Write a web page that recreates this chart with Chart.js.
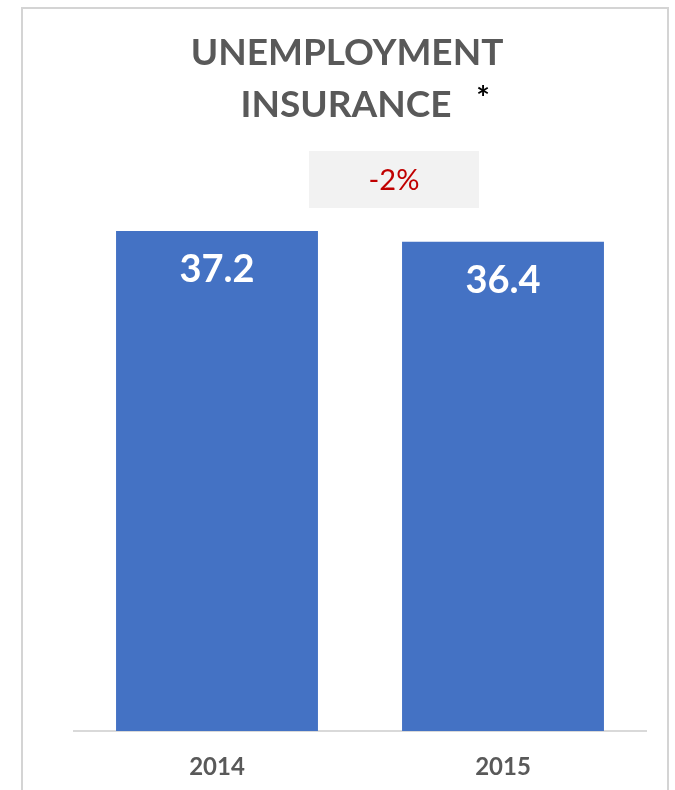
<!DOCTYPE html>
<html>
<head>
<meta charset="utf-8">
<script src="https://cdn.jsdelivr.net/npm/chart.js@4/dist/chart.umd.min.js"></script>
<style>
  html, body { margin: 0; padding: 0; background: #ffffff; }
  #wrap { position: relative; width: 675px; height: 790px; overflow: hidden; }
  #frame {
    position: absolute; left: 21px; top: 7px; width: 644px; height: 800px;
    border: 2px solid #d4d4d4; border-bottom: none;
  }
  canvas { position: absolute; left: 0; top: 0; }
</style>
</head>
<body>
<div id="wrap">
  <div id="frame"></div>
  <canvas id="chart" width="675" height="790"></canvas>
</div>
<script>
// Unemployment insurance, yearly totals
const years = ['2014', '2015'];
const values = [37.2, 36.4];
const titleLines = ['UNEMPLOYMENT', 'INSURANCE'];
const titleMark = '*';

const FONT = 'Lato, "Open Sans", "Liberation Sans", sans-serif';
const GREY = '#595959';

// Year-over-year change, shown in the grey badge above the bars
const change = (values[1] - values[0]) / values[0];
const changeText = (change >= 0 ? '+' : '-') + Math.round(Math.abs(change) * 100) + '%';

const headerPlugin = {
  id: 'header',
  afterDraw(chart) {
    const ctx = chart.ctx;
    ctx.save();
    // Title, two centred lines
    ctx.fillStyle = GREY;
    ctx.font = 'bold 37px ' + FONT;
    ctx.textAlign = 'center';
    ctx.textBaseline = 'alphabetic';
    ctx.fillText(titleLines[0], 347, 65);
    ctx.fillText(titleLines[1], 346, 117);
    // footnote mark
    ctx.fillStyle = '#000000';
    ctx.font = 'bold 32px ' + FONT;
    ctx.fillText(titleMark, 483, 110);
    // change badge
    ctx.fillStyle = '#f2f2f2';
    ctx.fillRect(309, 151, 170, 57);
    ctx.fillStyle = '#c00000';
    ctx.font = '29px ' + FONT;
    ctx.textBaseline = 'middle';
    ctx.fillText(changeText, 394, 181);
    ctx.restore();
  }
};

// White value labels just inside the top of each bar
const valueLabelPlugin = {
  id: 'valueLabels',
  afterDatasetsDraw(chart) {
    const ctx = chart.ctx;
    const meta = chart.getDatasetMeta(0);
    ctx.save();
    ctx.fillStyle = '#ffffff';
    ctx.font = 'bold 38px ' + FONT;
    ctx.textAlign = 'center';
    ctx.textBaseline = 'middle';
    meta.data.forEach((bar, i) => {
      ctx.fillText(values[i].toFixed(1), bar.x, bar.y + 39);
    });
    ctx.restore();
  }
};

new Chart(document.getElementById('chart'), {
  type: 'bar',
  data: {
    labels: years,
    datasets: [{
      data: values,
      backgroundColor: '#4472c4',
      borderWidth: 0,
      barPercentage: 0.706,
      categoryPercentage: 1.0
    }]
  },
  options: {
    responsive: false,
    animation: false,
    devicePixelRatio: 1,
    layout: { padding: { top: 139.6, left: 74, right: 29, bottom: 8.2 } },
    plugins: {
      legend: { display: false },
      title: { display: false },
      tooltip: { enabled: false }
    },
    scales: {
      x: {
        grid: { display: false, drawTicks: false },
        border: { display: true, color: '#d9d9d9', width: 2 },
        ticks: {
          color: GREY,
          font: { family: FONT, size: 24, weight: 'bold' },
          padding: 22
        },
        afterFit(scale) { scale.height = 50.8; }
      },
      y: {
        display: false,
        min: 0,
        max: 44
      }
    }
  },
  plugins: [headerPlugin, valueLabelPlugin]
});
</script>
</body>
</html>
